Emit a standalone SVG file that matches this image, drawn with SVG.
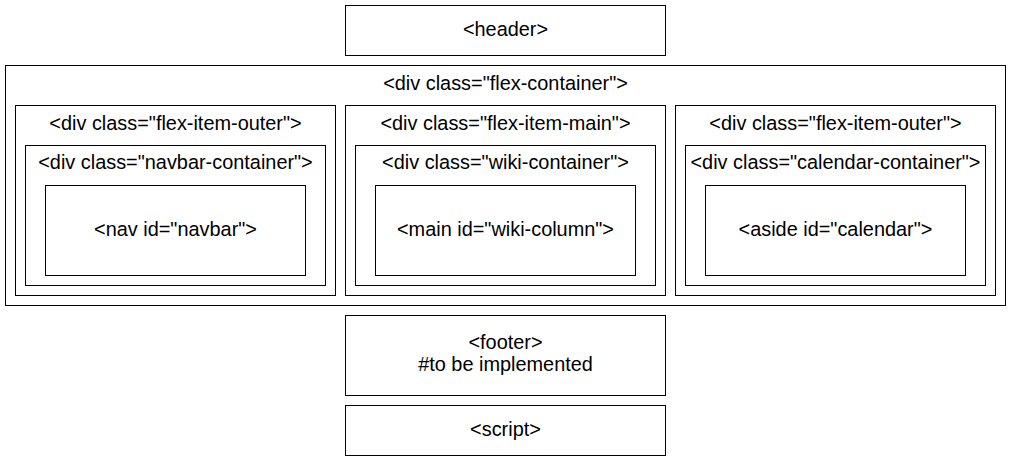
<svg xmlns="http://www.w3.org/2000/svg" width="1011" height="461" viewBox="0 0 1011 461">
<style>
rect{fill:#fff;stroke:#000;stroke-width:1}
text{font-family:"Liberation Sans",Arial,sans-serif;font-size:19.9px;fill:#000;text-anchor:middle}
</style>
<rect x="0" y="0" width="1011" height="461" style="stroke:none"/>
<g id="header"><rect x="345.5" y="5.5" width="320" height="50"/><text x="505.5" y="36">&lt;header&gt;</text></g>
<g id="flex-container"><rect x="5.5" y="65.5" width="1000" height="240"/><text x="505.5" y="90">&lt;div class="flex-container"&gt;</text>
<g id="flex-item-outer-left"><rect x="15.5" y="105.5" width="320" height="190"/><text x="175.5" y="130">&lt;div class="flex-item-outer"&gt;</text>
<g id="navbar-container"><rect x="25.5" y="145.5" width="300" height="140"/><text x="175.5" y="169">&lt;div class="navbar-container"&gt;</text>
<g id="navbar"><rect x="45.5" y="185.5" width="260" height="90"/><text x="175.5" y="236">&lt;nav id="navbar"&gt;</text></g></g></g>
<g id="flex-item-main"><rect x="345.5" y="105.5" width="320" height="190"/><text x="505.5" y="130">&lt;div class="flex-item-main"&gt;</text>
<g id="wiki-container"><rect x="355.5" y="145.5" width="300" height="140"/><text x="505.5" y="169">&lt;div class="wiki-container"&gt;</text>
<g id="wiki-column"><rect x="375.5" y="185.5" width="260" height="90"/><text x="505.5" y="236">&lt;main id="wiki-column"&gt;</text></g></g></g>
<g id="flex-item-outer-right"><rect x="675.5" y="105.5" width="320" height="190"/><text x="835.5" y="130">&lt;div class="flex-item-outer"&gt;</text>
<g id="calendar-container"><rect x="685.5" y="145.5" width="300" height="140"/><text x="835.5" y="169">&lt;div class="calendar-container"&gt;</text>
<g id="calendar"><rect x="705.5" y="185.5" width="260" height="90"/><text x="835.5" y="236">&lt;aside id="calendar"&gt;</text></g></g></g>
</g>
<g id="footer"><rect x="345.5" y="315.5" width="320" height="80"/><text x="505.5" y="349">&lt;footer&gt;</text><text x="505.5" y="371">#to be implemented</text></g>
<g id="script"><rect x="345.5" y="405.5" width="320" height="50"/><text x="505.5" y="436">&lt;script&gt;</text></g>
<g id="connectors"/>
</svg>
